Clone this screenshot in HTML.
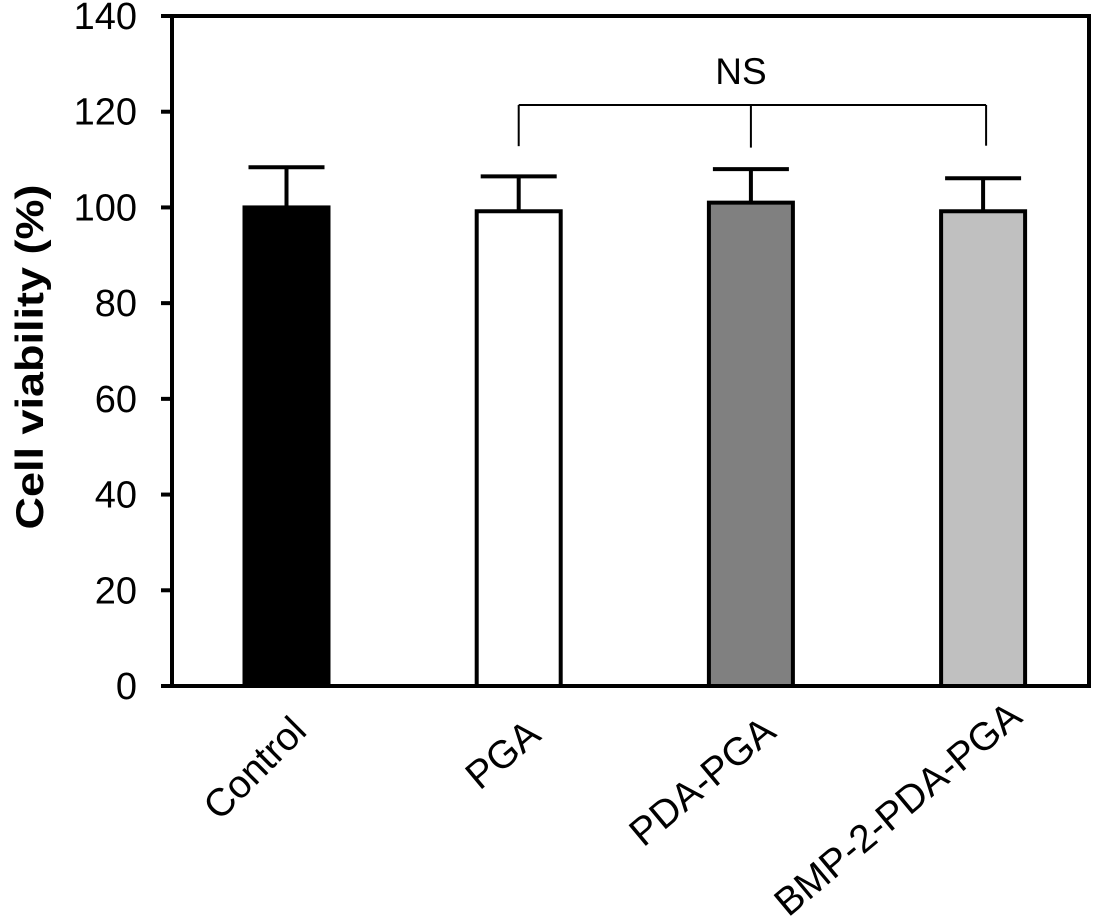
<!DOCTYPE html>
<html><head><meta charset="utf-8"><style>
html,body{margin:0;padding:0;background:#fff;}
svg{display:block;font-family:"Liberation Sans",Arial,sans-serif;}
</style></head><body>
<svg id="chart" width="1102" height="922" viewBox="0 0 1102 922">
<rect width="1102" height="922" fill="#fff"/>
<g id="g"></g>
</svg>
<script>
const categories = ["Control","PGA","PDA-PGA","BMP-2-PDA-PGA"];
const values = [100, 99.2, 101, 99.2];
const errors = [8.4, 7.3, 7.0, 6.9];
const fills = ["#000000","#ffffff","#808080","#c0c0c0"];
const yTicks = [0,20,40,60,80,100,120,140];
const bracketY = 121.4;
const bracketLegs = [112.8, 112.5, 112.9];

const X0=172, X1=1089, Y0=686, Y1=16;
const yMin=0,yMax=140;
function y(v){return Y0-(v-yMin)/(yMax-yMin)*(Y0-Y1);}
function xc(i){return 286.5+i*232.2;}
const BW=84;
const labelDx=[22,24,27,41], labelY=[733,738,735,720], labelRot=[45,40,40,40];
const NS="http://www.w3.org/2000/svg";
const g=document.getElementById('g');
function mk(t,a,txt){const e=document.createElementNS(NS,t);for(const k in a)e.setAttribute(k,a[k]);if(txt!=null)e.textContent=txt;g.appendChild(e);return e;}

values.forEach((v,i)=>{
  const b=mk('rect',{x:xc(i)-BW/2,y:y(v),width:BW,height:Y0-y(v),fill:fills[i],stroke:'#000','stroke-width':4});
  
  
  const top=y(v+errors[i]);
  const e1=mk('line',{x1:xc(i),x2:xc(i),y1:y(v),y2:top,stroke:'#000','stroke-width':4});
  
  
  const e2=mk('line',{x1:xc(i)-38,x2:xc(i)+38,y1:top,y2:top,stroke:'#000','stroke-width':4});
  
  
});
categories.forEach((c,i)=>{
  const ax=xc(i)+labelDx[i], ay=labelY[i];
  const t=mk('text',{x:ax,y:ay,'text-anchor':'end','font-size':39,transform:`rotate(-${labelRot[i]} ${ax} ${ay})`},c);
  
  
});

const fr=mk('rect',{x:X0,y:Y1,width:X1-X0,height:Y0-Y1,fill:'none',stroke:'#000','stroke-width':4});



yTicks.forEach(v=>{
  const l=mk('line',{x1:161,x2:X0,y1:y(v),y2:y(v),stroke:'#000','stroke-width':4});
  
  
  const t=mk('text',{x:137,y:y(v)+13,'text-anchor':'end','font-size':38},String(v));
  
  
});

const yt=mk('text',{x:43,y:357,'text-anchor':'middle','font-size':39,'font-weight':'bold',textLength:345,lengthAdjust:'spacingAndGlyphs',transform:'rotate(-90 43 357)'},'Cell viability (%)');



const by=y(bracketY);
const bl=mk('line',{x1:xc(1),x2:xc(3)+3,y1:by,y2:by,stroke:'#000','stroke-width':2});


[1,2,3].forEach((c,k)=>{
  const l=mk('line',{x1:xc(c)+(c==3?3:0),x2:xc(c)+(c==3?3:0),y1:by,y2:y(bracketLegs[k]),stroke:'#000','stroke-width':2});
  
  
});
const ns=mk('text',{x:741,y:84,'text-anchor':'middle','font-size':37},'NS');


</script>
</body></html>
